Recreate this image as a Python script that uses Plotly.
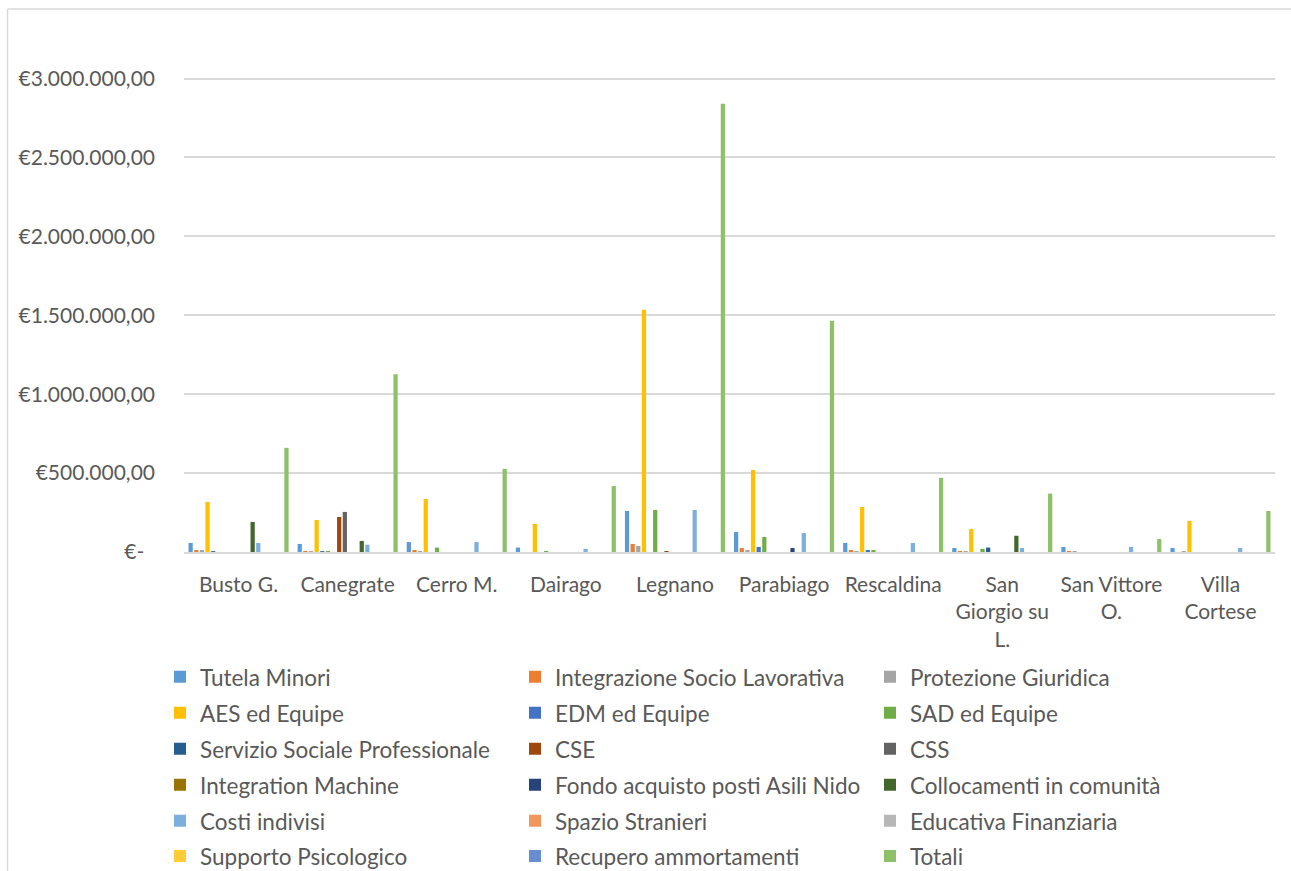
import plotly.graph_objects as go

# Comuni (categorie sull'asse X) ed etichette con gli a capo
comuni = ["Busto G.", "Canegrate", "Cerro M.", "Dairago", "Legnano", "Parabiago",
          "Rescaldina", "San Giorgio su L.", "San Vittore O.", "Villa Cortese"]
etichette_comuni = ["Busto G.", "Canegrate", "Cerro M.", "Dairago", "Legnano", "Parabiago",
                    "Rescaldina", "San<br>Giorgio su<br>L.", "San Vittore<br>O.", "Villa<br>Cortese"]

# Importi (€) per servizio, nell'ordine dei comuni
tutela_minori = [57000, 51000, 63000, 28000, 260000, 127000, 57000, 25000, 32000, 25000]
integrazione_socio_lavorativa = [10000, 4000, 8000, 0, 51000, 25000, 12000, 3000, 3000, 0]
protezione_giuridica = [8000, 3000, 5000, 0, 38000, 13000, 5000, 2000, 2000, 2000]
aes_ed_equipe = [317000, 203000, 336000, 178000, 1535000, 520000, 285000, 146000, 0, 197000]
edm_ed_equipe = [2000, 3000, 0, 0, 0, 32000, 13000, 0, 0, 0]
sad_ed_equipe = [0, 5000, 28000, 5000, 266000, 95000, 12000, 20000, 0, 0]
servizio_sociale_prof = [0, 0, 0, 0, 0, 0, 0, 28000, 0, 0]
cse = [0, 222000, 0, 0, 3000, 0, 0, 0, 0, 0]
css = [0, 254000, 0, 0, 0, 0, 0, 0, 0, 0]
integration_machine = [0, 0, 0, 0, 0, 0, 0, 0, 0, 0]
fondo_asili_nido = [0, 0, 0, 0, 0, 25000, 0, 0, 0, 0]
collocamenti_comunita = [190000, 70000, 0, 0, 0, 0, 0, 103000, 0, 0]
costi_indivisi = [57000, 46000, 63000, 20000, 266000, 120000, 57000, 25000, 32000, 25000]
spazio_stranieri = [0, 0, 0, 0, 0, 0, 0, 0, 0, 0]
educativa_finanziaria = [0, 0, 0, 0, 0, 0, 0, 0, 0, 0]
supporto_psicologico = [0, 0, 0, 0, 0, 0, 0, 0, 0, 0]
recupero_ammortamenti = [0, 0, 0, 0, 0, 0, 0, 0, 0, 0]
totali = [660000, 1127000, 527000, 418000, 2840000, 1465000, 470000, 370000, 82000, 260000]

# Etichette dell'asse Y
y_tick_vals = [0, 500000, 1000000, 1500000, 2000000, 2500000, 3000000]
y_tick_text = ["€-\u00a0\u00a0", "€500.000,00", "€1.000.000,00", "€1.500.000,00",
               "€2.000.000,00", "€2.500.000,00", "€3.000.000,00"]

serie = [
    ("Tutela Minori", tutela_minori, "#5B9BD5"),
    ("Integrazione Socio Lavorativa", integrazione_socio_lavorativa, "#ED7D31"),
    ("Protezione Giuridica", protezione_giuridica, "#A5A5A5"),
    ("AES ed Equipe", aes_ed_equipe, "#FFC000"),
    ("EDM ed Equipe", edm_ed_equipe, "#4472C4"),
    ("SAD ed Equipe", sad_ed_equipe, "#70AD47"),
    ("Servizio Sociale Professionale", servizio_sociale_prof, "#255E91"),
    ("CSE", cse, "#9E480E"),
    ("CSS", css, "#636363"),
    ("Integration Machine", integration_machine, "#997300"),
    ("Fondo acquisto posti Asili Nido", fondo_asili_nido, "#264478"),
    ("Collocamenti in comunità", collocamenti_comunita, "#43682B"),
    ("Costi indivisi", costi_indivisi, "#7CAFDD"),
    ("Spazio Stranieri", spazio_stranieri, "#F1975A"),
    ("Educativa Finanziaria", educativa_finanziaria, "#B7B7B7"),
    ("Supporto Psicologico", supporto_psicologico, "#FFCD33"),
    ("Recupero ammortamenti", recupero_ammortamenti, "#698ED0"),
    ("Totali", totali, "#8CC168"),
]

W, H = 1291, 871
PL, PR = 184, 1275          # plot area, px
PT, PB = 77.4, 552
FONT = "Lato"
GREY = "#595959"

fig = go.Figure()
for i, (nome, valori, colore) in enumerate(serie):
    riga = i // 3
    fig.add_trace(go.Bar(
        name=nome, x=comuni, y=valori,
        marker=dict(color=colore, line=dict(width=0)),
        legend="legend" if riga == 0 else f"legend{riga + 1}",
    ))

def px_to_paper_x(px):
    return (px - PL) / (PR - PL)

def px_to_paper_y(py):
    return (PB - py) / (PB - PT)

# Legenda: sei righe da tre voci
righe_legenda_y = [677, 713, 749, 785, 821, 856]
legends = {}
for r, yc in enumerate(righe_legenda_y):
    key = "legend" if r == 0 else f"legend{r + 1}"
    legends[key] = dict(
        orientation="h",
        x=px_to_paper_x(160), xanchor="left",
        y=px_to_paper_y(yc), yanchor="middle",
        entrywidth=310, entrywidthmode="pixels",
        font=dict(family=FONT, size=22.5, color=GREY),
        bgcolor="rgba(0,0,0,0)", borderwidth=0,
        traceorder="normal",
    )

fig.update_layout(
    width=W, height=H,
    margin=dict(l=PL, r=W - PR, t=PT, b=H - PB, pad=0, autoexpand=False),
    paper_bgcolor="white", plot_bgcolor="white",
    barmode="group", bargap=0.07, bargroupgap=0.25,
    font=dict(family=FONT, size=21, color=GREY),
    xaxis=dict(
        tickmode="array", tickvals=comuni, ticktext=etichette_comuni,
        showline=True, linecolor="#d9d9d9", linewidth=1.5,
        showgrid=False, ticks="", ticklabelstandoff=13,
        tickfont=dict(family=FONT, size=21, color=GREY),
    ),
    yaxis=dict(
        range=[0, 3010000], tickmode="array",
        tickvals=y_tick_vals, ticktext=y_tick_text,
        showgrid=True, gridcolor="#d9d9d9", gridwidth=1.5,
        zeroline=False, showline=False, ticks="",
        ticklabelstandoff=28,
        tickfont=dict(family=FONT, size=21, color=GREY),
    ),
    shapes=[
        dict(type="line", xref="paper", yref="paper",
             x0=px_to_paper_x(7.5), x1=px_to_paper_x(7.5),
             y0=px_to_paper_y(9.5), y1=px_to_paper_y(880),
             line=dict(color="#d9d9d9", width=1.5)),
        dict(type="line", xref="paper", yref="paper",
             x0=px_to_paper_x(7.5), x1=px_to_paper_x(1300),
             y0=px_to_paper_y(9.5), y1=px_to_paper_y(9.5),
             line=dict(color="#d9d9d9", width=1.5)),
    ],
    showlegend=True,
    **legends,
)

fig.write_html("out.html")
